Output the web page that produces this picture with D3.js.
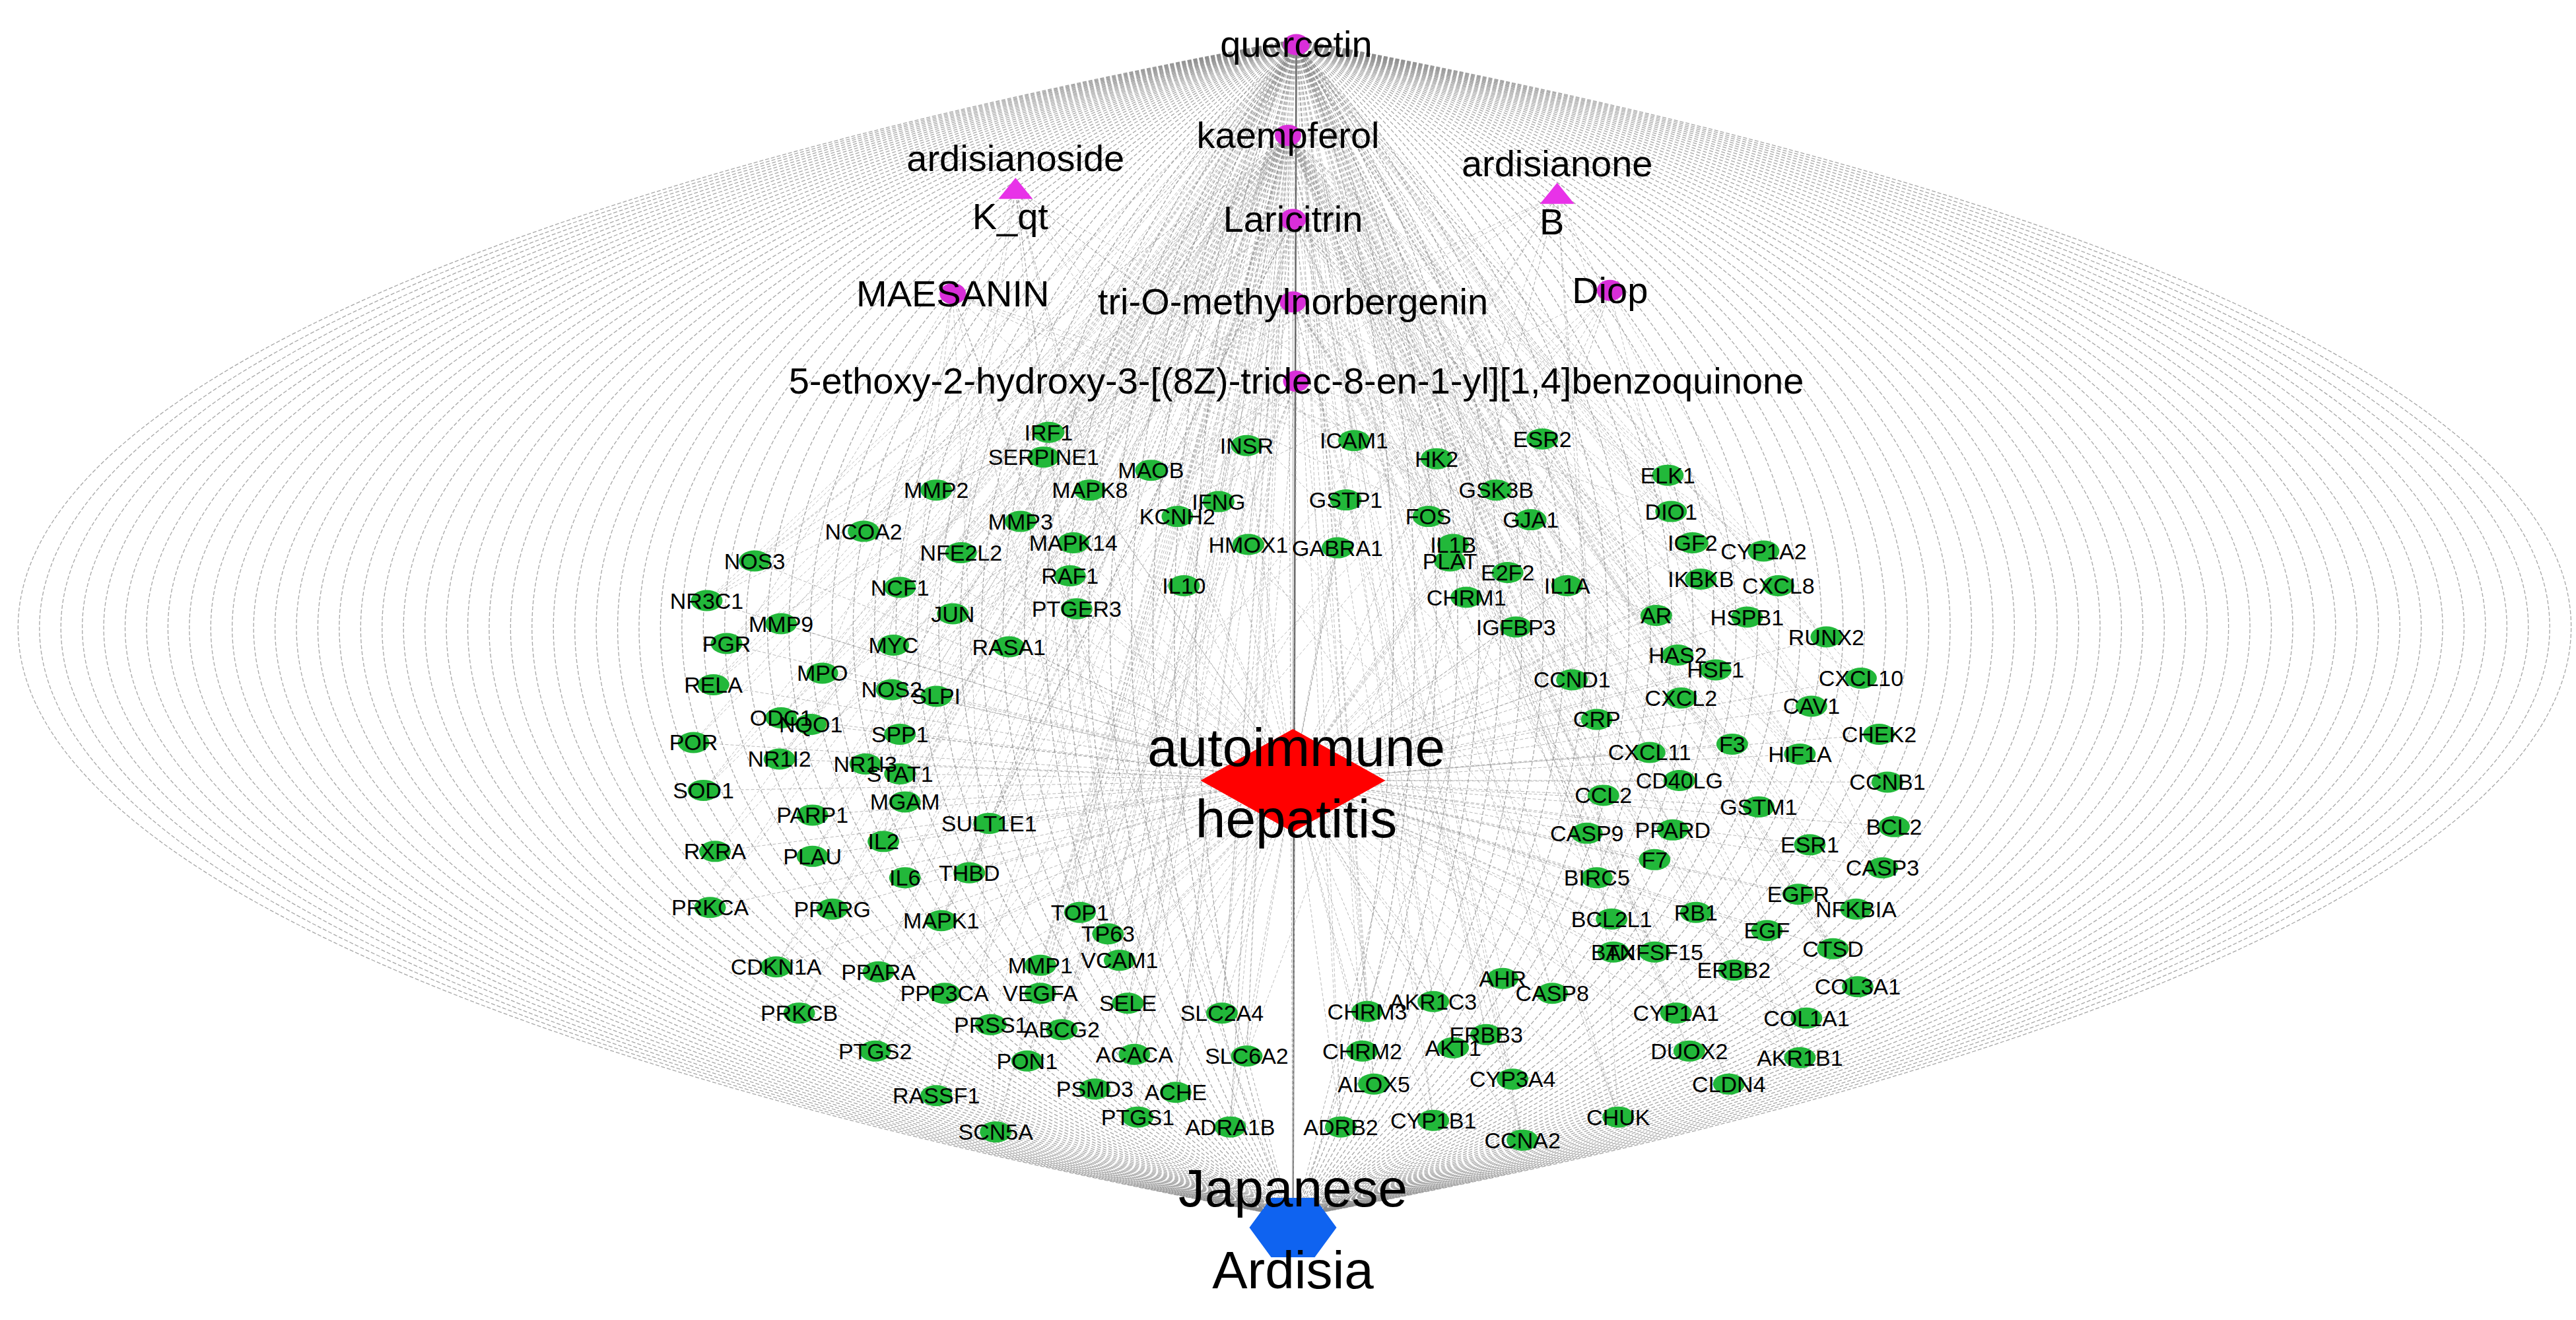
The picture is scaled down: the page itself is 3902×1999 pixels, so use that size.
<!DOCTYPE html>
<html lang="en">
<head>
<meta charset="UTF-8">
<title>Japanese Ardisia - autoimmune hepatitis network</title>
<script src="https://d3js.org/d3.v7.min.js"></script>
<style>
  body { margin: 0; background: #fff; }
  text { font-family: "Liberation Sans", Arial, sans-serif; fill: #000; }
</style>
</head>
<body>
<script>
// compounds (magenta), positions in reference layout units (1560 x 800)
const compoundNames = ["quercetin", "kaempferol", "ardisianoside K_qt", "ardisianone B", "Laricitrin",
  "MAESANIN", "tri-O-methylnorbergenin", "Diop", "5-ethoxy-2-hydroxy-3-[(8Z)-tridec-8-en-1-yl][1,4]benzoquinone"];
const compoundX = [785, 780, 615, 943, 783, 577, 783, 975, 785];
const compoundY = [27, 82, 115, 118, 133, 178, 183, 176, 231];
const compoundShape = ["circle", "circle", "triangle", "triangle", "circle", "circle", "circle", "circle", "circle"];

// target genes (green)
const geneNames = ["IRF1","SERPINE1","INSR","ICAM1","MAOB","MAPK8","MMP2","HK2","ESR2","ELK1","GSK3B","GSTP1","IFNG","KCNH2","MMP3","NCOA2","NFE2L2","MAPK14","HMOX1","GABRA1","FOS","DIO1","GJA1","IGF2","CYP1A2","IL1B","PLAT","E2F2","NOS3","NCF1","RAF1","IL10","IKBKB","CXCL8","IL1A","CHRM1","NR3C1","AR","HSPB1","JUN","PTGER3","MMP9","MYC","IGFBP3","RUNX2","PGR","RASA1","HAS2","HSF1","MPO","CXCL10","CCND1","RELA","NOS2","SLPI","CXCL2","CAV1","CRP","ODC1","CHEK2","F3","NQO1","SPP1","POR","HIF1A","CXCL11","NR1I2","NR1I3","STAT1","CCNB1","CD40LG","CCL2","SOD1","MGAM","GSTM1","PARP1","SULT1E1","BCL2","CASP9","PPARD","RXRA","PLAU","IL2","ESR1","CASP3","F7","BIRC5","IL6","THBD","EGFR","PRKCA","PPARG","MAPK1","TOP1","BCL2L1","RB1","NFKBIA","TP63","EGF","CTSD","TNFSF15","BAX","CDKN1A","PPARA","VCAM1","MMP1","ERBB2","AHR","COL3A1","VEGFA","PPP3CA","SELE","SLC2A4","CHRM3","AKR1C3","CASP8","CYP1A1","COL1A1","PRKCB","PRSS1","ABCG2","ERBB3","CHRM2","SLC6A2","ACACA","AKT1","DUOX2","AKR1B1","PTGS2","PON1","CLDN4","PSMD3","ACHE","ALOX5","CYP3A4","RASSF1","CHUK","PTGS1","ADRA1B","ADRB2","CYP1B1","CCNA2","SCN5A"];
const geneX = [635,632,755,820,697,660,567,870,934,1010,906,815,738,713,618,523,582,650,756,810,865,1012,927,1025,1068,880,878,913,457,545,648,717,1030,1077,949,888,428,1003,1058,577,652,473,541,918,1106,440,611,1016,1039,498,1127,952,432,540,567,1018,1097,967,473,1138,1049,491,545,420,1090,999,472,524,545,1143,1017,971,426,548,1065,492,599,1147,961,1013,433,492,535,1096,1140,1002,967,548,587,1089,430,504,570,654,976,1027,1124,671,1070,1110,1002,977,470,532,678,630,1050,910,1125,630,572,683,740,828,868,940,1015,1094,484,600,643,900,825,755,687,880,1023,1090,530,622,1047,663,712,832,916,567,980,689,745,812,868,922,603];
const geneY = [262,277,270,267,285,297,297,278,266,288,297,303,304,313,316,322,335,329,330,332,313,310,315,329,334,330,340,347,340,356,349,355,351,355,355,362,364,373,374,372,369,378,391,380,386,390,392,397,406,408,411,412,415,418,422,423,428,436,435,445,451,439,445,450,457,456,460,463,469,474,473,482,479,486,489,494,499,501,505,503,516,519,510,512,526,521,532,532,529,542,550,551,558,553,557,553,551,566,564,575,577,577,586,589,582,585,588,593,598,602,602,608,614,613,607,602,614,617,614,621,624,627,637,640,639,635,637,641,637,643,657,660,662,657,654,664,677,677,683,683,679,691,686];

const disease = { name: ["autoimmune", "hepatitis"], x: 783, y: 473 };
const herb = { name: ["Japanese", "Ardisia"], x: 783, y: 744 };

const W = 3902, H = 1999;
const sx = d3.scaleLinear().domain([0, 1560]).range([0, W]);
const sy = d3.scaleLinear().domain([0, 800]).range([0, H]);

const svg = d3.select("body").append("svg").attr("width", W).attr("height", H);
const gEdges = svg.append("g").attr("fill", "none").attr("stroke", "#8a8a8a");

// outer arcs between top compound and herb node
const arcOffsets = d3.range(60, 785, 13);
const topPt = [sx(785), sy(24)], botPt = [sx(783), sy(738)];
[-1, 1].forEach(side => {
  gEdges.selectAll(null).data(arcOffsets).join("path")
    .attr("d", r => `M${topPt[0]},${topPt[1]} C${sx(784 + side * 1.33 * r)},${sy(215)} ${sx(784 + side * 1.33 * r)},${sy(545)} ${botPt[0]},${botPt[1]}`)
    .attr("stroke-width", 1.3).attr("stroke-dasharray", "6,3").attr("opacity", 0.75);
});

// compound -> herb
gEdges.selectAll(null).data(compoundNames).join("line")
  .attr("x1", (d, i) => sx(compoundX[i])).attr("y1", (d, i) => sy(compoundY[i]))
  .attr("x2", sx(herb.x)).attr("y2", sy(herb.y))
  .attr("stroke-width", (d, i) => i === 0 ? 2.5 : 1)
  .attr("stroke-dasharray", (d, i) => i === 0 ? null : "5,3")
  .attr("stroke", (d, i) => i === 0 ? "#666" : "#aaa");

// compound -> gene links
const links = [];
geneNames.forEach((g, j) => {
  links.push([0, j]);
  if (j % 3 !== 2) links.push([1, j]);
  if (j % 4 === 0) links.push([4, j]);
  if (j % 7 === 1) links.push([6, j]);
  if (j % 9 === 3) links.push([8, j]);
  if (j % 11 === 5) links.push([2, j]);
  if (j % 13 === 6) links.push([3, j]);
  if (j % 15 === 7) links.push([5, j]);
  if (j % 17 === 8) links.push([7, j]);
});
gEdges.selectAll(null).data(links).join("line")
  .attr("x1", d => sx(compoundX[d[0]])).attr("y1", d => sy(compoundY[d[0]]))
  .attr("x2", d => sx(geneX[d[1]])).attr("y2", d => sy(geneY[d[1]]))
  .attr("stroke-width", 1).attr("stroke-dasharray", "5,3").attr("opacity", 0.55);

// gene -> disease
gEdges.selectAll(null).data(geneNames).join("line")
  .attr("x1", (d, i) => sx(geneX[i])).attr("y1", (d, i) => sy(geneY[i]))
  .attr("x2", sx(disease.x)).attr("y2", sy(disease.y))
  .attr("stroke-width", 1).attr("stroke-dasharray", "5,3").attr("opacity", 0.6);

// gene nodes
const gGenes = svg.append("g");
gGenes.selectAll("ellipse").data(geneNames).join("ellipse")
  .attr("cx", (d, i) => sx(geneX[i])).attr("cy", (d, i) => sy(geneY[i]))
  .attr("rx", 24).attr("ry", 16).attr("fill", "#22b83a");
gGenes.selectAll("text").data(geneNames).join("text")
  .attr("x", (d, i) => sx(geneX[i])).attr("y", (d, i) => sy(geneY[i]) + 12)
  .attr("text-anchor", "middle").attr("font-size", 34).text(d => d);

// disease diamond
const dx = sx(disease.x), dy = sy(disease.y);
svg.append("path")
  .attr("d", `M${dx - 140},${dy} L${dx},${dy - 78} L${dx + 140},${dy} L${dx},${dy + 78}Z`)
  .attr("fill", "#ff0000");
svg.selectAll(".dlab").data(disease.name).join("text").attr("class", "dlab")
  .attr("x", dx + 5).attr("y", (d, i) => dy + (i === 0 ? -22 : 86))
  .attr("text-anchor", "middle").attr("font-size", 82).text(d => d);

// herb hexagon
const hx = sx(herb.x), hy = sy(herb.y);
const hex = d3.range(6).map(k => {
  const a = Math.PI / 3 * k;
  return [hx + 66 * Math.cos(a), hy + 52 * Math.sin(a)];
});
svg.append("polygon").attr("points", hex.map(p => p.join(",")).join(" ")).attr("fill", "#0f63f0");
svg.selectAll(".hlab").data(herb.name).join("text").attr("class", "hlab")
  .attr("x", hx).attr("y", (d, i) => hy + (i === 0 ? -32 : 92))
  .attr("text-anchor", "middle").attr("font-size", 80).text(d => d);

// compound nodes
const gComp = svg.append("g");
compoundNames.forEach((name, i) => {
  const cx = sx(compoundX[i]), cy = sy(compoundY[i]);
  if (compoundShape[i] === "triangle") {
    gComp.append("polygon")
      .attr("points", `${cx},${cy - 18} ${cx - 26},${cy + 14} ${cx + 26},${cy + 14}`)
      .attr("fill", "#e832e8");
    const parts = name.split(" ");
    gComp.append("text").attr("x", cx).attr("y", cy - 28).attr("text-anchor", "middle")
      .attr("font-size", 56).text(parts[0]);
    gComp.append("text").attr("x", cx - 8).attr("y", cy + 60).attr("text-anchor", "middle")
      .attr("font-size", 56).text(parts[1]);
  } else {
    gComp.append("ellipse").attr("cx", cx).attr("cy", cy).attr("rx", 20).attr("ry", 16)
      .attr("fill", "#d92ed9");
    gComp.append("text").attr("x", cx).attr("y", cy + 19).attr("text-anchor", "middle")
      .attr("font-size", 56).text(name);
  }
});
</script>
</body>
</html>
